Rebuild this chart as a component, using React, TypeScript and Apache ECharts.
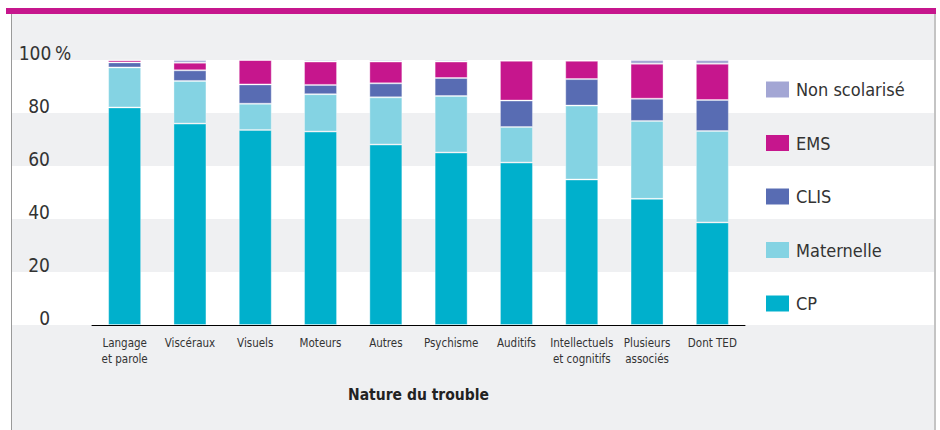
import React, { useEffect, useRef } from "react";
import * as echarts from "echarts";

const categories = [
  "Langage\net parole",
  "Viscéraux",
  "Visuels",
  "Moteurs",
  "Autres",
  "Psychisme",
  "Auditifs",
  "Intellectuels\net cognitifs",
  "Plusieurs\nassociés",
  "Dont TED",
];
const cp = [82.1, 76.0, 73.6, 73.0, 68.1, 65.1, 61.3, 54.9, 47.6, 38.7];
const maternelle = [15.1, 16.1, 9.9, 14.1, 17.8, 21.3, 13.4, 27.9, 29.4, 34.5];
const clis = [1.9, 4.0, 7.3, 3.5, 5.3, 6.8, 10.0, 10.0, 8.4, 11.7];
const ems = [0.8, 2.9, 9.2, 8.8, 8.2, 6.2, 15.0, 6.9, 13.2, 13.7];
const nonScolarise = [0.1, 1.0, 0, 0.6, 0.6, 0.6, 0.3, 0.3, 1.4, 1.4];
const yTicks = [0, 20, 40, 60, 80, 100];

const FONT = "'Liberation Sans Narrow', 'DejaVu Sans Condensed', 'Roboto', sans-serif";

export default function App() {
  const ref = useRef<HTMLDivElement>(null);
  useEffect(() => {
    if (!ref.current) return;
    const chart = echarts.init(ref.current, null, { renderer: "svg" });
    const mk = (name: string, data: number[], color: string) => ({
      name,
      type: "bar",
      stack: "total",
      xAxisIndex: 0,
      yAxisIndex: 0,
      barWidth: 33,
      data,
      itemStyle: { color, borderColor: "rgba(255,255,255,0.35)", borderWidth: 1 },
    });
    chart.setOption({
      animation: false,
      backgroundColor: "#eff0f2",
      textStyle: { fontFamily: FONT },
      graphic: [
        { type: "rect", z: 100, shape: { x: 0, y: 0, width: 940, height: 8 }, style: { fill: "#ffffff" } },
        { type: "rect", z: 100, shape: { x: 0, y: 0, width: 11, height: 430 }, style: { fill: "#ffffff" } },
        { type: "rect", z: 100, shape: { x: 936, y: 0, width: 4, height: 430 }, style: { fill: "#ffffff" } },
        { type: "rect", z: 101, shape: { x: 11, y: 14, width: 1, height: 416 }, style: { fill: "#9a9a9a" } },
        { type: "rect", z: 101, shape: { x: 934, y: 14, width: 2, height: 416 }, style: { fill: "#c4c4c4" } },
        { type: "rect", z: 101, shape: { x: 6, y: 8, width: 930, height: 6 }, style: { fill: "#c6168d" } },
      ],
      legend: {
        orient: "vertical",
        left: 761,
        top: 75.5,
        itemWidth: 23,
        itemHeight: 16,
        itemGap: 35.5,
        icon: "rect",
        selectedMode: false,
        data: ["Non scolarisé", "EMS", "CLIS", "Maternelle", "CP"],
        itemStyle: { borderWidth: 0 },
        textStyle: { fontSize: 18, color: "#333", fontFamily: FONT, padding: [0, 0, 0, 2] },
      },
      grid: [
        { left: 92, right: 195, top: 60, bottom: 105 },
        { left: 12, right: 6, top: 60, bottom: 105 },
      ],
      xAxis: [
        {
          type: "category",
          gridIndex: 0,
          data: categories,
          axisLine: { lineStyle: { color: "#000", width: 1 } },
          axisTick: { length: 6, lineStyle: { color: "#000" } },
          axisLabel: { fontSize: 11.5, color: "#333", lineHeight: 16, margin: 10, fontFamily: FONT, interval: 0 },
          name: "Nature du trouble",
          nameLocation: "middle",
          nameGap: 62,
          nameTextStyle: { fontSize: 15.5, fontWeight: "bold", color: "#222", fontFamily: FONT },
          z: 5,
        },
        { type: "value", gridIndex: 1, min: 0, max: 1, show: false },
      ],
      yAxis: [
        {
          type: "value",
          gridIndex: 0,
          min: 0,
          max: 100,
          interval: 20,
          axisLine: { show: false },
          axisTick: { show: false },
          splitLine: { show: false },
          axisLabel: {
            margin: 72,
            align: "left",
            verticalAlign: "bottom",
            color: "#333",
            fontSize: 19,
            lineHeight: 14,
            fontFamily: FONT,
            formatter: (v: number) =>
              yTicks.includes(v) ? (v === 100 ? "{n|100}{s|%}" : "{n|" + v + "}") : "",
            rich: {
              n: { fontSize: 19, lineHeight: 14, color: "#333", fontFamily: FONT, width: 30, align: "right" },
              s: { fontSize: 19, lineHeight: 14, color: "#333", fontFamily: FONT, padding: [0, 0, 0, 5] },
            },
          },
          z: 5,
        },
        {
          type: "value",
          gridIndex: 1,
          min: 0,
          max: 100,
          interval: 20,
          axisLine: { show: false },
          axisTick: { show: false },
          axisLabel: { show: false },
          splitLine: { show: false },
          splitArea: { show: true, areaStyle: { color: ["#ffffff", "#eff0f2"] } },
        },
      ],
      series: [
        mk("CP", cp, "#00b0cc"),
        mk("Maternelle", maternelle, "#84d3e3"),
        mk("CLIS", clis, "#586cb3"),
        mk("EMS", ems, "#c6168d"),
        mk("Non scolarisé", nonScolarise, "#a3a6d4"),
        { type: "line", xAxisIndex: 1, yAxisIndex: 1, data: [], silent: true },
      ],
    });
    return () => chart.dispose();
  }, []);
  return (
    <div
      ref={ref}
      style={{ position: "absolute", left: 0, top: 0, width: 940, height: 430 }}
    />
  );
}
